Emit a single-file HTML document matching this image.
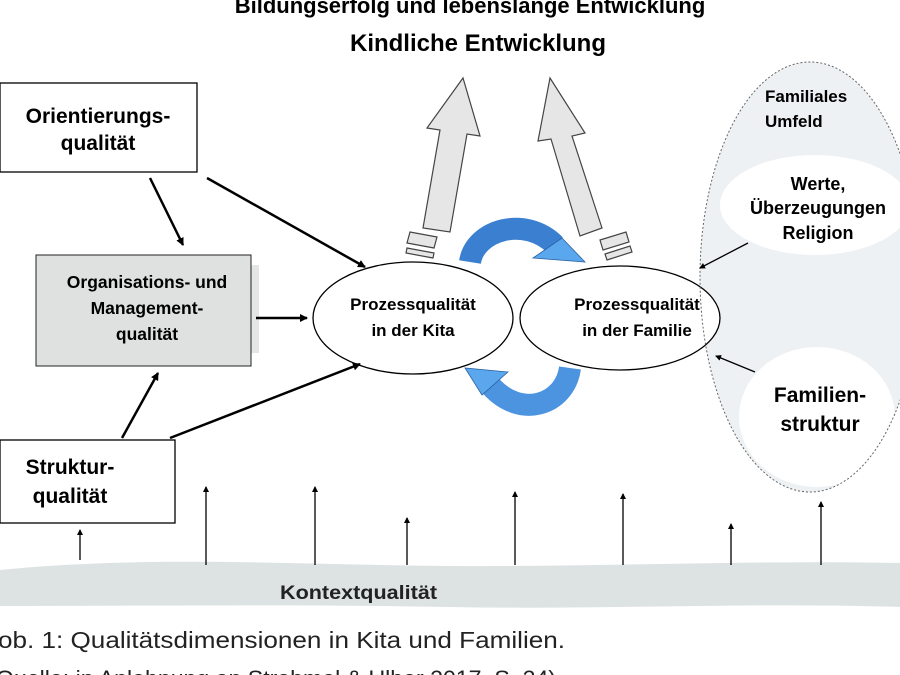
<!DOCTYPE html>
<html><head><meta charset="utf-8"><style>
body{margin:0;width:900px;height:675px;overflow:hidden;background:#fff;font-family:"Liberation Sans",Arial,sans-serif}
svg{position:absolute;left:0;top:0}
</style></head><body>
<svg width="900" height="675" viewBox="0 0 900 675">
<defs>
<marker id="a" markerWidth="8" markerHeight="8" refX="7" refY="4" orient="auto" markerUnits="userSpaceOnUse"><path d="M0,0 L8,4 L0,8 Z" fill="#000"/></marker>
<marker id="s" markerWidth="6" markerHeight="6" refX="5" refY="3" orient="auto" markerUnits="userSpaceOnUse"><path d="M0,0 L6,3 L0,6 Z" fill="#000"/></marker>
</defs>
<text x="470" y="13" text-anchor="middle" font-size="22" font-weight="bold">Bildungserfolg und lebenslange Entwicklung</text>
<text x="478" y="51" text-anchor="middle" font-size="24" font-weight="bold">Kindliche Entwicklung</text>

<!-- right ellipse fill -->
<ellipse cx="810" cy="277" rx="110" ry="215" fill="#eef1f3"/>
<ellipse cx="815" cy="205" rx="95" ry="50" fill="#fff"/>
<ellipse cx="817" cy="417" rx="78" ry="70" fill="#fff"/>

<!-- gray up arrows -->
<g fill="#e6e6e6" stroke="#444" stroke-width="1.2">
<polygon points="423,228 440,130 427,128 463,78 480,136 467,134 450,232"/>
<polygon points="410,232 437,237 434,248 407,243"/>
<polygon points="407,248 434,253 433,258 406,253"/>
<polygon points="602,228 572,136 585,133 550,78 538,141 551,139 580,236"/>
<polygon points="600,240 626,232 629,242 603,250"/>
<polygon points="605,254 630,246 632,252 607,260"/>
</g>

<!-- process ellipses -->
<ellipse cx="620" cy="318" rx="100" ry="52" fill="#fff" stroke="#000" stroke-width="1.3"/>
<ellipse cx="413" cy="318" rx="100" ry="56" fill="#fff" stroke="#000" stroke-width="1.3"/>
<text x="413" y="310" text-anchor="middle" font-size="17" font-weight="bold">Prozessqualität</text>
<text x="413" y="336" text-anchor="middle" font-size="17" font-weight="bold">in der Kita</text>
<text x="637" y="310" text-anchor="middle" font-size="17" font-weight="bold">Prozessqualität</text>
<text x="637" y="336" text-anchor="middle" font-size="17" font-weight="bold">in der Familie</text>

<!-- dashed outline on top -->
<ellipse cx="810" cy="277" rx="110" ry="215" fill="none" stroke="#666" stroke-width="1" stroke-dasharray="2,2"/>
<text x="765" y="102" font-size="17" font-weight="bold">Familiales</text>
<text x="765" y="127" font-size="17" font-weight="bold">Umfeld</text>
<text x="818" y="190" text-anchor="middle" font-size="18" font-weight="bold">Werte,</text>
<text x="818" y="214" text-anchor="middle" font-size="18" font-weight="bold">Überzeugungen</text>
<text x="818" y="239" text-anchor="middle" font-size="18" font-weight="bold">Religion</text>
<text x="820" y="402" text-anchor="middle" font-size="21" font-weight="bold">Familien-</text>
<text x="820" y="431" text-anchor="middle" font-size="21" font-weight="bold">struktur</text>

<!-- blue arrows -->
<path d="M470,262 C475,230 525,215 555,245" fill="none" stroke="#3b7fd0" stroke-width="22"/>
<polygon points="533,258 585,262 562,238" fill="#5aa7ee" stroke="#2a60a0" stroke-width="0.8"/>
<path d="M570,368 C565,405 520,420 490,385" fill="none" stroke="#4c93e0" stroke-width="22"/>
<polygon points="508,372 465,368 482,395" fill="#5aa7ee" stroke="#2a60a0" stroke-width="0.8"/>

<!-- boxes -->
<rect x="0" y="83" width="197" height="89" fill="#fff" stroke="#000" stroke-width="1.3"/>
<text x="98" y="123" text-anchor="middle" font-size="21" font-weight="bold">Orientierungs-</text>
<text x="98" y="150" text-anchor="middle" font-size="21" font-weight="bold">qualität</text>
<rect x="240" y="265" width="19" height="88" fill="#e4e6e6"/>
<rect x="36" y="255" width="215" height="111" fill="#dfe1e1" stroke="#222" stroke-width="1"/>
<text x="147" y="288" text-anchor="middle" font-size="17.5" font-weight="bold">Organisations-  und</text>
<text x="147" y="314" text-anchor="middle" font-size="17.5" font-weight="bold">Management-</text>
<text x="147" y="340" text-anchor="middle" font-size="17.5" font-weight="bold">qualität</text>
<rect x="0" y="440" width="175" height="83" fill="#fff" stroke="#000" stroke-width="1.3"/>
<text x="70" y="474" text-anchor="middle" font-size="21" font-weight="bold">Struktur-</text>
<text x="70" y="503" text-anchor="middle" font-size="21" font-weight="bold">qualität</text>

<!-- black arrows -->
<g stroke="#000" stroke-width="2.5" marker-end="url(#a)">
<line x1="150" y1="178" x2="183" y2="245"/>
<line x1="207" y1="178" x2="365" y2="267"/>
<line x1="256" y1="318" x2="307" y2="318"/>
<line x1="122" y1="438" x2="158" y2="373"/>
<line x1="170" y1="438" x2="360" y2="364"/>
</g>
<g stroke="#000" stroke-width="1.3" marker-end="url(#s)">
<line x1="748" y1="243" x2="700" y2="268"/>
<line x1="755" y1="372" x2="716" y2="356"/>
</g>

<!-- bottom band -->
<path d="M0,570 C150,555 300,565 450,566 C600,567 750,560 900,563 L900,607 C750,602 600,610 450,607 C300,604 150,606 0,606 Z" fill="#dde3e3"/>
<text x="280" y="599" font-size="19" font-weight="bold" fill="#222" textLength="157" lengthAdjust="spacingAndGlyphs">Kontextqualität</text>
<g stroke="#000" stroke-width="1.3" marker-end="url(#s)">
<line x1="80" y1="560" x2="80" y2="530"/>
<line x1="206" y1="565" x2="206" y2="487"/>
<line x1="315" y1="565" x2="315" y2="487"/>
<line x1="407" y1="565" x2="407" y2="518"/>
<line x1="515" y1="565" x2="515" y2="492"/>
<line x1="623" y1="565" x2="623" y2="494"/>
<line x1="731" y1="565" x2="731" y2="524"/>
<line x1="821" y1="565" x2="821" y2="502"/>
</g>
<text x="-2" y="648" font-size="23" fill="#222" textLength="567" lengthAdjust="spacingAndGlyphs">ob. 1: Qualitätsdimensionen in Kita und Familien.</text>
<text x="-4" y="686" font-size="22" fill="#222" textLength="560" lengthAdjust="spacingAndGlyphs">Quelle: in Anlehnung an Strohmel &amp; Ulber 2017, S. 24)</text>
</svg>
</body></html>
